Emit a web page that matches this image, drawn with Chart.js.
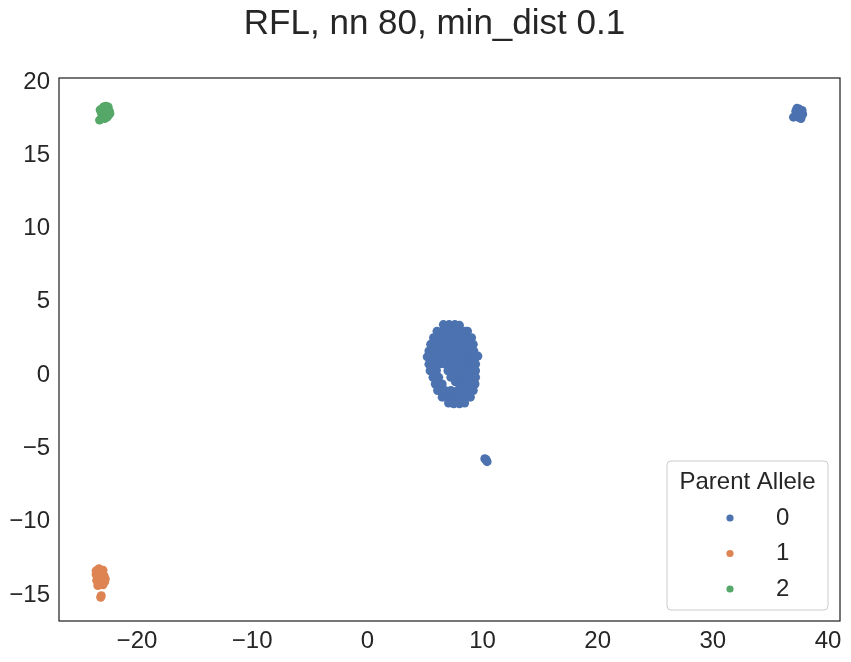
<!DOCTYPE html>
<html>
<head>
<meta charset="utf-8">
<script src="https://cdn.jsdelivr.net/npm/chart.js@4.4.1/dist/chart.umd.min.js"></script>
<style>
  html, body { margin: 0; padding: 0; background: #ffffff; }
  #wrap { width: 851px; height: 662px; position: relative; }
</style>
</head>
<body>
<div id="wrap"><canvas id="c"></canvas></div>
<script>
// ---- data ----
const chartTitle = "RFL, nn 80, min_dist 0.1";
const legendTitle = "Parent Allele";
const categories = ["0", "1", "2"];
const seriesColors = ["#4c72b0", "#dd8452", "#55a868"];

const xTicks = [-20, -10, 0, 10, 20, 30, 40];
const yTicks = [-15, -10, -5, 0, 5, 10, 15, 20];
const xRange = [-26.77, 41.04];
const yRange = [-16.77, 20.27];

// Parent allele 0 (blue): main cluster, small cluster, top-right cluster
const allele0 = [
  [6.6,3.45],[7.1,3.45],[7.6,3.45],[8.0,3.4],
  [6.05,3.0],[6.5,3.0],[7.0,3.0],[7.5,3.0],[8.0,3.0],[8.5,3.0],[8.7,3.0],
  [5.75,2.55],[6.25,2.55],[6.75,2.55],[7.25,2.55],[7.75,2.55],[8.25,2.55],[8.75,2.55],[9.05,2.55],
  [5.5,2.1],[6.0,2.1],[6.5,2.1],[7.0,2.1],[7.5,2.1],[8.0,2.1],[8.5,2.1],[9.0,2.1],[9.2,2.1],
  [5.35,1.65],[5.75,1.65],[6.25,1.65],[6.75,1.65],[7.25,1.65],[7.75,1.65],[8.25,1.65],[8.75,1.65],[9.25,1.65],
  [5.2,1.25],[5.5,1.2],[6.0,1.2],[6.5,1.2],[7.0,1.2],[7.5,1.2],[8.0,1.2],[8.5,1.2],[9.0,1.2],[9.4,1.2],[9.6,1.3],
  [5.35,0.75],[5.75,0.75],[6.25,0.75],[6.75,0.75],[7.25,0.75],[7.75,0.75],[8.25,0.75],[8.75,0.75],[9.25,0.75],[9.4,0.75],
  [5.45,0.3],[6.0,0.3],[7.0,0.3],[7.5,0.3],[8.0,0.3],[8.5,0.3],[9.0,0.3],[9.4,0.3],
  [5.7,-0.15],[6.2,-0.15],[7.25,-0.15],[7.75,-0.15],[8.25,-0.15],[8.75,-0.15],[9.25,-0.15],[9.4,-0.15],
  [5.9,-0.6],[6.5,-0.6],[7.65,-0.45],[8.0,-0.6],[8.5,-0.6],[9.0,-0.6],[9.35,-0.6],
  [6.1,-1.05],[6.3,-1.05],[6.75,-1.05],[7.25,-1.05],[7.85,-1.05],[8.25,-1.05],[8.75,-1.05],[9.2,-1.05],
  [6.5,-1.5],[7.0,-1.5],[7.5,-1.5],[8.0,-1.5],[8.5,-1.5],[8.95,-1.5],
  [7.05,-1.9],[7.5,-1.95],[8.0,-1.95],[8.45,-1.9],
  [10.2,-5.7],[10.4,-5.9],[10.3,-5.75],
  [37.5,18.15],[37.2,18.0],[37.6,17.9],[37.0,17.6],[37.4,17.6],[37.8,17.8],[37.65,17.5],[37.3,18.2],[37.75,18.05]
];
// Parent allele 1 (orange): bottom-left cluster
const allele1 = [
  [-23.3,-13.2],[-22.95,-13.3],[-23.55,-13.6],[-23.2,-13.6],[-22.85,-13.7],
  [-23.5,-14.0],[-23.1,-14.0],[-22.8,-14.1],[-23.3,-14.3],[-22.95,-14.3],
  [-23.55,-13.35],[-23.4,-14.35],[-22.75,-13.9],
  [-23.1,-15.05],[-23.15,-15.15]
];
// Parent allele 2 (green): top-left cluster
const allele2 = [
  [-22.9,18.3],[-22.5,18.3],[-23.1,17.9],[-22.7,17.9],[-22.4,18.0],
  [-23.0,17.6],[-22.6,17.6],[-23.25,17.4],[-22.8,17.5],[-22.5,17.7],
  [-23.2,18.1],[-22.7,18.35],[-22.35,17.85]
];

const seriesValues = [allele0, allele1, allele2];

// ---- chart ----
const FONT = "'Liberation Sans', Arial, 'DejaVu Sans', sans-serif";
const TEXT = "#262626";

function fmt(v) { return v < 0 ? "\u2212" + Math.abs(v) : String(v); }

// shift the (built-in) title so it is centred like the reference
const titleShift = {
  id: "titleShift",
  afterLayout(chart) {
    const t = chart.titleBlock;
    if (t) { t.left += 14.5; t.right += 14.5; }
  }
};

const boxPlugin = {
  id: "box",
  afterDatasetsDraw(chart) {
    const a = chart.chartArea, ctx = chart.ctx;
    ctx.save();
    ctx.strokeStyle = TEXT;
    ctx.lineWidth = 1.25;
    ctx.strokeRect(a.left, a.top, a.right - a.left, a.bottom - a.top);
    ctx.restore();
  }
};

const legendPlugin = {
  id: "innerLegend",
  afterDraw(chart) {
    const a = chart.chartArea, ctx = chart.ctx;
    const w = 161, h = 149;
    const x = a.right - 12 - w, y = a.bottom - 11 - h;
    ctx.save();
    ctx.beginPath();
    if (ctx.roundRect) ctx.roundRect(x, y, w, h, 4); else ctx.rect(x, y, w, h);
    ctx.fillStyle = "rgba(255,255,255,0.8)";
    ctx.fill();
    ctx.strokeStyle = "#cccccc";
    ctx.lineWidth = 1;
    ctx.stroke();
    ctx.fillStyle = TEXT;
    ctx.font = "24px " + FONT;
    ctx.textAlign = "center";
    ctx.textBaseline = "middle";
    ctx.fillText(legendTitle, x + w / 2, y + 21);
    categories.forEach((c, i) => {
      const cy = y + 57 + i * 35.5;
      ctx.beginPath();
      ctx.arc(x + 63, cy, 3.6, 0, Math.PI * 2);
      ctx.fillStyle = seriesColors[i];
      ctx.fill();
      ctx.fillStyle = TEXT;
      ctx.textAlign = "left";
      ctx.fillText(c, x + 109, cy);
    });
    ctx.restore();
  }
};

new Chart(document.getElementById("c"), {
  type: "scatter",
  data: {
    datasets: categories.map((c, i) => ({
      label: c,
      data: seriesValues[i].map(p => ({ x: p[0], y: p[1] })),
      backgroundColor: seriesColors[i],
      borderColor: seriesColors[i],
      borderWidth: 0,
      pointRadius: 4.5,
      pointHoverRadius: 4.5
    }))
  },
  options: {
    responsive: true,
    maintainAspectRatio: false,
    animation: false,
    events: [],
    layout: { padding: { left: 0, right: 11, top: 0, bottom: 0 } },
    plugins: {
      legend: { display: false },
      tooltip: { enabled: false },
      title: {
        display: true,
        text: chartTitle,
        color: TEXT,
        font: { family: FONT, size: 35, weight: "normal", lineHeight: 1.2 },
        padding: { top: 3, bottom: 33 }
      }
    },
    scales: {
      x: {
        type: "linear",
        min: xRange[0], max: xRange[1],
        grid: { display: false, drawTicks: false },
        border: { display: false },
        afterBuildTicks: s => { s.ticks = xTicks.map(v => ({ value: v })); },
        afterFit: s => { s.height = 41; },
        ticks: {
          color: TEXT, padding: 6,
          font: { family: FONT, size: 24 },
          maxRotation: 0, autoSkip: false,
          callback: v => fmt(v)
        }
      },
      y: {
        type: "linear",
        min: yRange[0], max: yRange[1],
        grid: { display: false, drawTicks: false },
        border: { display: false },
        afterBuildTicks: s => { s.ticks = yTicks.map(v => ({ value: v })); },
        afterFit: s => { s.width = 59; },
        ticks: {
          color: TEXT, padding: 9,
          font: { family: FONT, size: 24 },
          autoSkip: false,
          callback: v => fmt(v)
        }
      }
    }
  },
  plugins: [titleShift, boxPlugin, legendPlugin]
});
</script>
</body>
</html>
